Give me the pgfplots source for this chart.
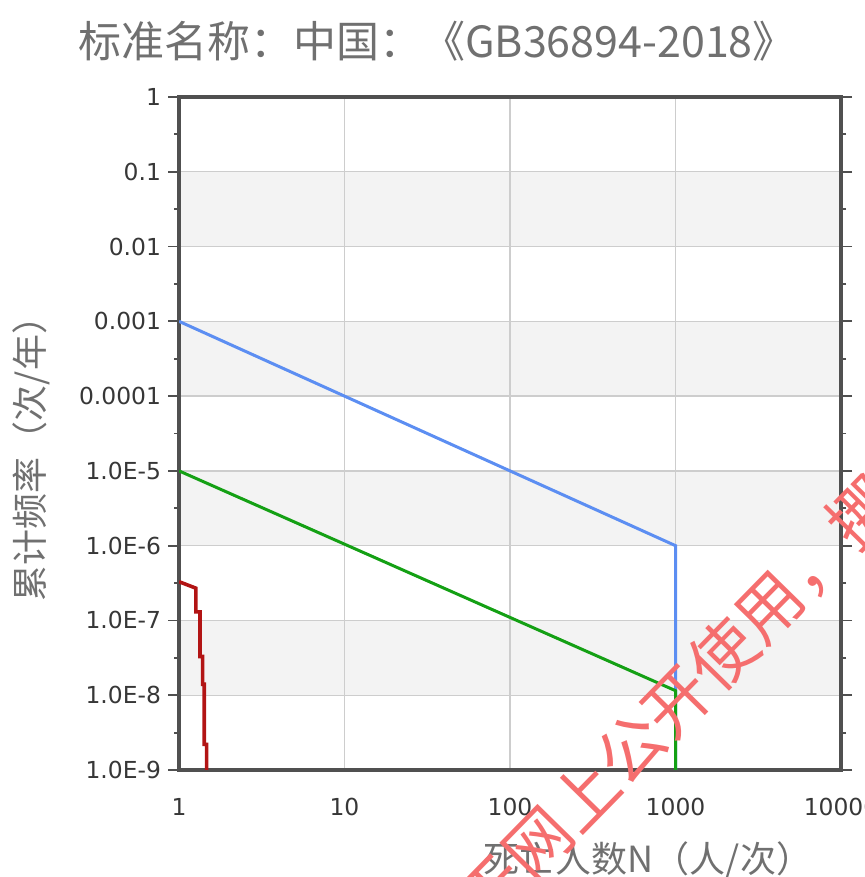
\documentclass[border=0pt]{standalone}
\usepackage{pgfplots}
\pgfplotsset{compat=1.18}
\usepackage{fontspec}
\setmainfont{DejaVu Sans}
\newfontfamily\cjk{Noto Sans CJK SC}
\definecolor{axisc}{RGB}{80,80,80}
\definecolor{gridc}{RGB}{205,205,205}
\definecolor{bandc}{RGB}{243,243,243}
\definecolor{tickc}{RGB}{55,55,55}
\definecolor{labc}{RGB}{112,112,112}
\definecolor{blueL}{RGB}{92,142,242}
\definecolor{greenL}{RGB}{20,160,20}
\definecolor{redL}{RGB}{178,20,20}
\definecolor{wmc}{RGB}{245,110,110}
\begin{document}
\begin{tikzpicture}
\begin{axis}[
  at={(0,0)}, anchor=south west,
  scale only axis, width=331pt, height=336.5pt,
  xmode=log, ymode=log,
  xmin=1, xmax=10000, ymin=1e-9, ymax=1,
  set layers,
  axis line style={draw=axisc, line width=1.7pt},
  grid=major,
  major grid style={draw=gridc, line width=0.7pt},
  xtick={1,10,100,1000,10000},
  xticklabels={1,10,100,1000,10000},
  ytick={1e-9,1e-8,1e-7,1e-6,1e-5,1e-4,1e-3,1e-2,1e-1,1},
  yticklabels={1.0E-9,1.0E-8,1.0E-7,1.0E-6,1.0E-5,0.0001,0.001,0.01,0.1,1},
  minor ytick={3.162e-9,3.162e-8,3.162e-7,3.162e-6,3.162e-5,3.162e-4,3.162e-3,3.162e-2,3.162e-1},
  xminorticks=false,
  tick align=outside,
  xtick style={draw=none},
  ytick style={draw=axisc, line width=0.9pt},
  major tick length=5.5pt, minor tick length=2.5pt,
  ticklabel style={font=\fontsize{11.7}{14}\selectfont, text=tickc},
  xticklabel style={yshift=-5pt},
]
\begin{pgfonlayer}{axis background}
\fill[bandc] (axis cs:1,1e-2) rectangle (axis cs:10000,1e-1);
\fill[bandc] (axis cs:1,1e-4) rectangle (axis cs:10000,1e-3);
\fill[bandc] (axis cs:1,1e-6) rectangle (axis cs:10000,1e-5);
\fill[bandc] (axis cs:1,1e-8) rectangle (axis cs:10000,1e-7);
\end{pgfonlayer}
\addplot[blueL, line width=1.5pt] coordinates {(1,1e-3) (1000,1e-6) (1000,1e-9)};
\addplot[greenL, line width=1.5pt] coordinates {(1,1e-5) (1000,1.15e-8) (1000,1e-9)};
\addplot[redL, line width=1.8pt] coordinates {
 (1,3.3e-7) (1.265,2.7e-7) (1.265,1.3e-7) (1.34,1.3e-7) (1.34,3.3e-8)
 (1.39,3.3e-8) (1.39,1.4e-8) (1.42,1.4e-8) (1.42,2.2e-9) (1.47,2.2e-9) (1.47,1e-9)};
\end{axis}
\node[text=labc, font=\cjk\fontsize{21.5}{24}\selectfont, inner sep=0] at (129pt,364.5pt) {标准名称：中国：《GB36894-2018》};
\node[text=labc, font=\cjk\fontsize{18}{21}\selectfont, inner sep=0, rotate=90] at (-73.75pt,160pt) {累计频率（次/年）};
\node[text=labc, font=\cjk\fontsize{18}{21}\selectfont, inner sep=0] at (234.5pt,-45pt) {死亡人数N（人/次）};
\node[text=wmc, font=\cjk\fontsize{33}{36}\selectfont, inner sep=0, rotate=45.6, anchor=west] at (145pt,-72pt) {于网上公开使用，挪用必究};
\pgfresetboundingbox
\path[use as bounding box] (-89.5pt,-53.5pt) rectangle (342.5pt,385pt);
\end{tikzpicture}
\end{document}
